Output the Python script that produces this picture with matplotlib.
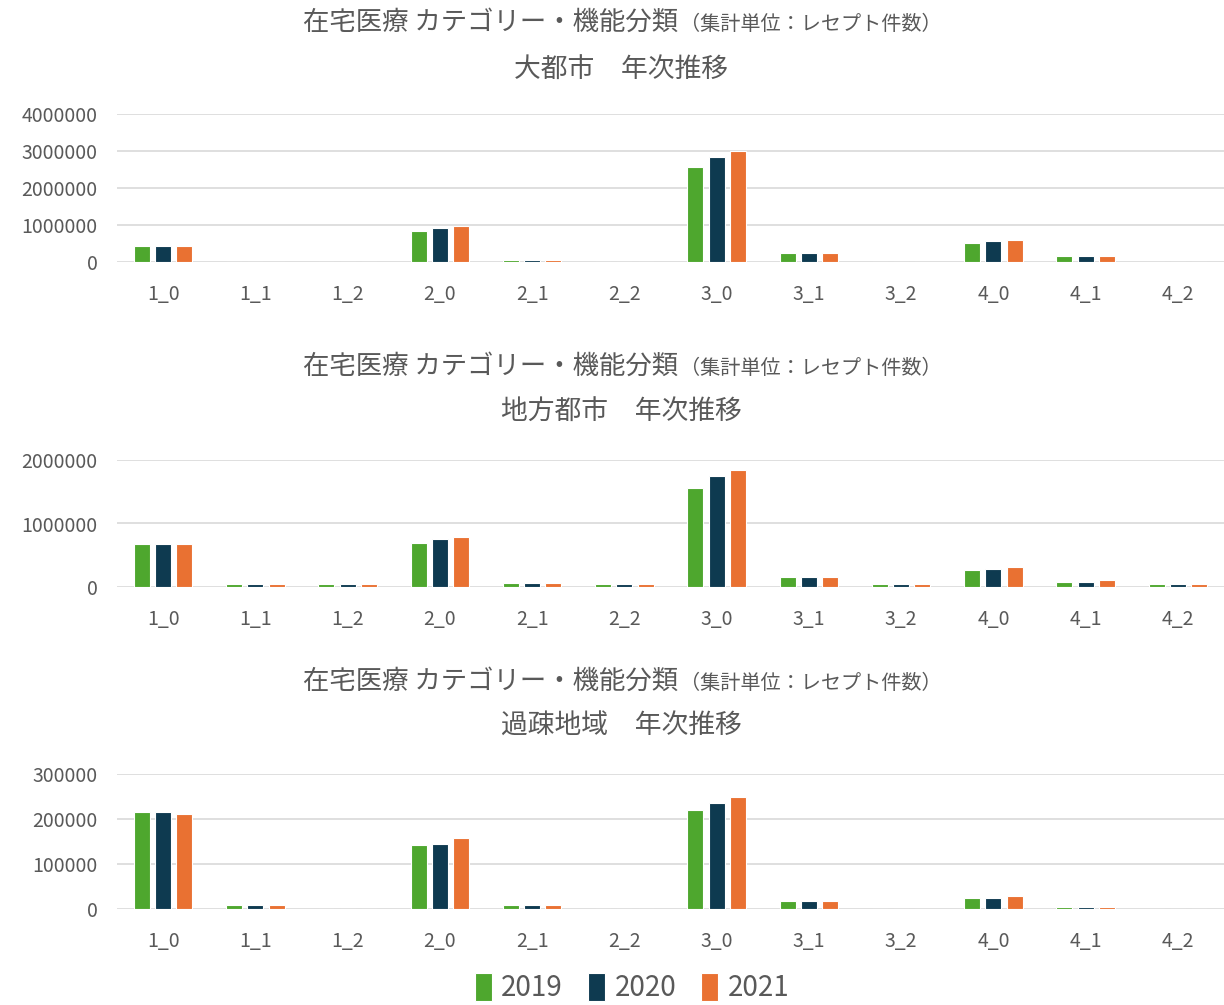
import matplotlib
matplotlib.use("Agg")
import matplotlib.pyplot as plt
import numpy as np

plt.rcParams['font.family'] = ['Noto Sans CJK JP', 'DejaVu Sans']

# カテゴリー
categories = ['1_0', '1_1', '1_2', '2_0', '2_1', '2_2', '3_0', '3_1', '3_2', '4_0', '4_1', '4_2']
years = ['2019', '2020', '2021']
colors = ['#4EA72E', '#0E3A50', '#E97132']

# 大都市
daitoshi_2019 = [430000, 5000, 5000, 840000, 50000, 5000, 2570000, 240000, 5000, 510000, 150000, 5000]
daitoshi_2020 = [430000, 5000, 5000, 920000, 50000, 5000, 2840000, 240000, 5000, 570000, 150000, 5000]
daitoshi_2021 = [430000, 5000, 5000, 970000, 50000, 5000, 3010000, 240000, 5000, 600000, 150000, 5000]

# 地方都市
chihou_2019 = [675000, 40000, 40000, 700000, 63000, 40000, 1560000, 160000, 40000, 265000, 80000, 40000]
chihou_2020 = [675000, 40000, 40000, 750000, 63000, 40000, 1750000, 160000, 40000, 290000, 80000, 40000]
chihou_2021 = [675000, 40000, 40000, 780000, 63000, 40000, 1850000, 160000, 40000, 315000, 110000, 40000]

# 過疎地域
kaso_2019 = [215000, 10000, 500, 142000, 10000, 500, 220000, 17000, 500, 24000, 5000, 500]
kaso_2020 = [215000, 10000, 500, 145000, 10000, 500, 235000, 17000, 500, 24000, 5000, 500]
kaso_2021 = [211000, 10000, 500, 157000, 10000, 500, 249000, 17000, 500, 28000, 5000, 500]

main_title = '在宅医療 カテゴリー・機能分類'
sub_title = '（集計単位：レセプト件数）'

charts = [
    ('大都市　年次推移', [daitoshi_2019, daitoshi_2020, daitoshi_2021], 4000000, 1000000),
    ('地方都市　年次推移', [chihou_2019, chihou_2020, chihou_2021], 2000000, 1000000),
    ('過疎地域　年次推移', [kaso_2019, kaso_2020, kaso_2021], 300000, 100000),
]

# 位置 (ピクセル → 比率)
W, H = 1224, 1005
ax_px = [(114, 262), (460, 587), (774, 909)]
title_px = [(30, 77), (374, 420), (689, 734)]

fig = plt.figure(figsize=(W / 100, H / 100), dpi=100)
gray = '#595959'
x = np.arange(len(categories))
w = 0.175

for i, (name, series, ymax, step) in enumerate(charts):
    top, bot = ax_px[i]
    ax = fig.add_axes([117 / W, 1 - bot / H, 1107 / W, (bot - top) / H])
    for j, vals in enumerate(series):
        ax.bar(x + (j - 1) * 0.23, vals, width=w, color=colors[j],
               edgecolor='white', linewidth=0.8, label=years[j], zorder=3)
    ax.set_xlim(-0.5, len(categories) - 0.5)
    ax.set_ylim(0, ymax)
    ax.set_yticks(np.arange(0, ymax + 1, step))
    ax.set_yticklabels([str(int(v)) for v in np.arange(0, ymax + 1, step)])
    ax.set_xticks(x)
    ax.set_xticklabels(categories)
    ax.tick_params(axis='both', length=0, labelsize=14, colors=gray)
    ax.tick_params(axis='y', pad=14)
    ax.tick_params(axis='x', pad=16)
    ax.grid(axis='y', color='#D9D9D9', linewidth=1.2, zorder=0)
    for s in ax.spines.values():
        s.set_visible(False)

    t1, t2 = title_px[i]
    fig.text(678 / W, 1 - t1 / H, main_title, ha='right', va='baseline', fontsize=19, color=gray)
    fig.text(680 / W, 1 - t1 / H, sub_title, ha='left', va='baseline', fontsize=14.5, color=gray)
    fig.text(621 / W, 1 - t2 / H, name, ha='center', va='baseline', fontsize=19.3, color=gray)

handles, labels = ax.get_legend_handles_labels()
fig.legend(handles, labels, loc='center', bbox_to_anchor=(632 / W, 1 - 988 / H), ncol=3,
           frameon=False, fontsize=20, handlelength=0.6, handleheight=1.2,
           handletextpad=0.35, columnspacing=0.9, labelcolor=gray)

fig.savefig('out.png', dpi=100)
